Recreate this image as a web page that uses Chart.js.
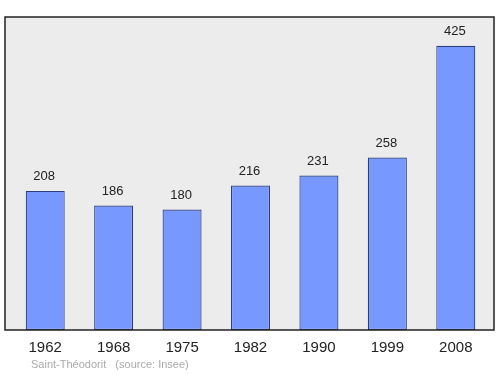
<!DOCTYPE html>
<html>
<head>
<meta charset="utf-8">
<script src="https://cdn.jsdelivr.net/npm/chart.js@4/dist/chart.umd.min.js"></script>
<style>
  html, body { margin: 0; padding: 0; background: #fff; }
  #wrap { width: 500px; height: 374px; }
</style>
</head>
<body>
<div id="wrap"><canvas id="popChart" width="500" height="374"></canvas></div>
<script>
// annees et population
const annees = ['1962', '1968', '1975', '1982', '1990', '1999', '2008'];
const population = [208, 186, 180, 216, 231, 258, 425];
const source = 'Saint-Théodorit   (source: Insee)';

// fond gris + cadre autour de la zone du graphique
const cadre = {
  id: 'cadre',
  beforeDraw(chart) {
    const ctx = chart.ctx;
    const a = chart.chartArea;
    ctx.save();
    ctx.fillStyle = '#ececec';
    ctx.fillRect(a.left - 6, a.top, a.right - a.left + 10, a.bottom - a.top);
    ctx.restore();
  },
  afterDatasetsDraw(chart) {
    const ctx = chart.ctx;
    const a = chart.chartArea;
    ctx.save();
    ctx.strokeStyle = '#222';
    ctx.lineWidth = 1.5;
    ctx.strokeRect(a.left - 6, a.top, a.right - a.left + 10, a.bottom - a.top);

    // valeurs au-dessus des barres
    ctx.fillStyle = '#222';
    ctx.font = '13px "Liberation Sans", Arial, sans-serif';
    ctx.textAlign = 'center';
    ctx.textBaseline = 'middle';
    chart.getDatasetMeta(0).data.forEach((bar, i) => {
      ctx.fillText(population[i], bar.x - 1, bar.y - 14);
    });

    // source en bas
    ctx.fillStyle = '#aaa';
    ctx.font = '11px "Liberation Sans", Arial, sans-serif';
    ctx.textAlign = 'left';
    ctx.fillText(source, 31, 365);
    ctx.restore();
  }
};

new Chart(document.getElementById('popChart').getContext('2d'), {
  type: 'bar',
  data: {
    labels: annees,
    datasets: [{
      data: population,
      backgroundColor: '#7799ff',
      borderColor: '#2b3f7f',
      borderWidth: 1.2,
      borderSkipped: false,
      barPercentage: 0.57,
      categoryPercentage: 1
    }]
  },
  options: {
    responsive: false,
    animation: false,
    layout: { padding: { left: 11, right: 10, top: 17, bottom: 0 } },
    plugins: {
      legend: { display: false },
      tooltip: { enabled: false }
    },
    scales: {
      x: {
        grid: { display: false },
        border: { display: false },
        afterFit: s => { s.height = 44; },
        ticks: {
          color: '#222',
          padding: 1,
          font: { size: 15, family: '"Liberation Sans", Arial, sans-serif' }
        }
      },
      y: {
        display: false,
        min: 0,
        max: 468
      }
    }
  },
  plugins: [cadre]
});
</script>
</body>
</html>
